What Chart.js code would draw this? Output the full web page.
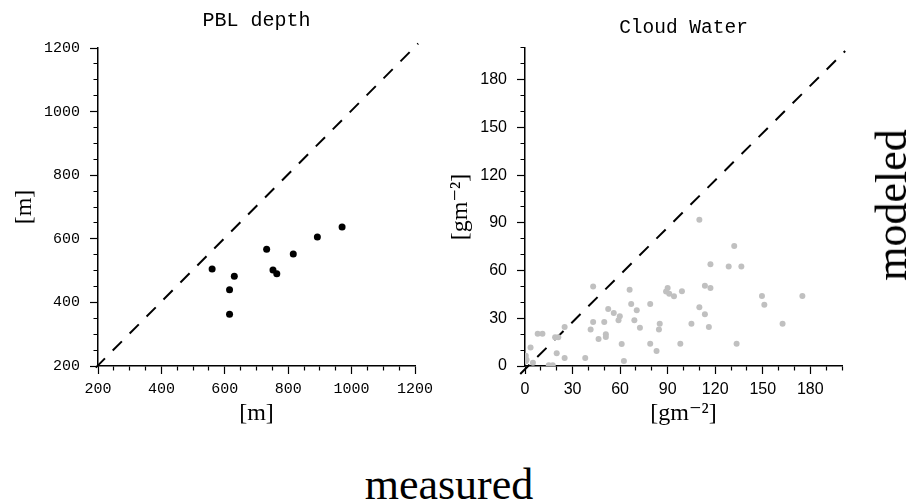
<!DOCTYPE html>
<html>
<head>
<meta charset="utf-8">
<script src="https://cdn.jsdelivr.net/npm/chart.js@4/dist/chart.umd.min.js"></script>
<style>
  body { margin: 0; background: #fff; }
  #wrap { position: relative; width: 911px; height: 503px; overflow: hidden; background: #fff; }
  canvas { position: absolute; top: 0; }
  #pbl { left: 0; }
  #cw { left: 430px; }
  .big { position: absolute; font-family: "Liberation Serif", "Times New Roman", serif; font-size: 44px; color: #000; white-space: nowrap; line-height: 1; }
  #measured { left: 449px; top: 463px; transform: translateX(-50%); }
  #modeled { left: 892px; top: 205px; transform: translate(-50%, -50%) rotate(-90deg); }
</style>
</head>
<body>
<div id="wrap">
  <canvas id="pbl" width="460" height="440"></canvas>
  <canvas id="cw" width="481" height="440"></canvas>
  <div class="big" id="modeled">modeled</div>
  <div class="big" id="measured">measured</div>
</div>
<script>
// PBL depth panel [m]
const pblMeasured = [560, 615, 615, 630, 732, 752, 764, 816, 892, 970];
const pblModeled  = [505, 440, 363, 482, 567, 502, 490, 552, 606, 637];
const pblTicks = [200, 400, 600, 800, 1000, 1200];
const pblDiagX = [193, 1210];
const pblDiagY = [195, 1214];

// Cloud Water panel [g m-2]
const cwMeasured = [110, 132, 117, 128.5, 136.5, 43, 66, 90, 89, 91, 94, 99, 113.5, 117,
  149.5, 151, 175, 162.5, 133.5, 98, 105, 110, 113.5, 116, 79, 85, 84.5, 79, 83,
  67, 70.5, 69, 72.5, 59.8, 59, 56, 52.5, 50, 43, 41.4, 46.4, 51, 51, 61, 62.4,
  38, 25, 25, 20, 19, 21, 8, 11, 3.5, 0.5, 1, 0.5, 5, 15, 17.5];
const cwModeled = [92, 75.5, 64, 62.5, 62.5, 50, 48, 49, 46.8, 45.5, 43.8, 47, 50.5, 49,
  44, 38.5, 44, 26.5, 14, 14, 26.5, 37, 32.5, 24.5, 39, 26.5, 23, 14, 9.5,
  39, 35, 28.7, 24, 31.3, 28.7, 33.3, 35.8, 27.7, 27.7, 23, 17, 20, 18.2, 13.8, 3.1,
  5, 24.5, 5, 8, 18, 18, 20.3, 20.3, 11.7, 6.5, 4, 3, 2, 0.4, 0.4];
const cwTicks = [0, 30, 60, 90, 120, 150, 180];
const cwDiagX = [-3, 202];
const cwDiagY = [-5, 198];

const MONO = '"Liberation Mono", "Courier New", monospace';
const SANS = '"Liberation Sans", Arial, sans-serif';
const SERIF = '"Liberation Serif", "DejaVu Serif", serif';

function tickGrid(majorStep, pos) {
  return {
    display: true,
    drawOnChartArea: false,
    drawTicks: true,
    tickLength: 8,
    tickColor: '#000',
    tickWidth: 1.2,
    tickBorderDash: (c) => {
      const v = c.tick ? c.tick.value : 0;
      if (Math.abs(v % majorStep) < 1e-6) return [];
      // minor ticks: keep only the part next to the axis
      return pos === 'left' ? [0, 3.5, 5, 100] : [4, 100];
    },
  };
}

function axis(opts) {
  return {
    type: 'linear',
    position: opts.position,
    min: opts.min,
    max: opts.max,
    ticks: {
      stepSize: opts.step,
      autoSkip: false,
      maxRotation: 0,
      color: '#000',
      padding: opts.position === 'left' ? 10 : 6,
      font: { family: opts.tickFont, size: opts.tickSize },
      callback: (v) => (opts.labels.includes(v) ? String(v) : ''),
    },
    grid: tickGrid(opts.major, opts.position),
    border: { display: true, color: '#000', width: 1.5 },
    title: {
      display: true,
      text: opts.title,
      color: '#000',
      font: { family: SERIF, size: 24 },
      padding: opts.position === 'left' ? { top: opts.titlePad, bottom: 0 } : { top: 0, bottom: opts.titlePad },
    },
    afterFit: (s) => {
      if (opts.position === 'left') s.width = opts.size;
      else s.height = opts.size;
    },
  };
}

function makeChart(id, cfg) {
  const pts = cfg.xs.map((x, i) => ({ x: x, y: cfg.ys[i] }));
  const diag = cfg.diagX.map((x, i) => ({ x: x, y: cfg.diagY[i] }));
  return new Chart(document.getElementById(id), {
    type: 'scatter',
    data: {
      datasets: [
        {
          data: pts,
          pointRadius: cfg.radius,
          pointHoverRadius: cfg.radius,
          backgroundColor: cfg.color,
          borderWidth: 0,
        },
        {
          type: 'line',
          data: diag,
          borderColor: '#000',
          borderWidth: 2,
          borderDash: [13, 11],
          pointRadius: 0,
          showLine: true,
          fill: false,
          clip: false,
        },
      ],
    },
    options: {
      responsive: false,
      animation: false,
      devicePixelRatio: 1,
      layout: { padding: { left: 0, right: cfg.padRight, top: 0, bottom: 0 } },
      plugins: {
        legend: { display: false },
        tooltip: { enabled: false },
        title: {
          display: true,
          fullSize: false,
          text: cfg.title,
          color: '#000',
          font: { family: MONO, size: cfg.titleSize, weight: 'normal' },
          padding: cfg.titlePad,
        },
      },
      scales: {
        x: axis({ position: 'bottom', min: cfg.min, max: cfg.max, step: cfg.step, major: cfg.major,
          labels: cfg.ticks, tickFont: cfg.tickFont, tickSize: cfg.tickSize,
          title: cfg.unit, titlePad: 11.6, size: 74 }),
        y: axis({ position: 'left', min: cfg.min, max: cfg.max, step: cfg.step, major: cfg.major,
          labels: cfg.ticks, tickFont: cfg.tickFont, tickSize: cfg.tickSize,
          title: cfg.unit, titlePad: cfg.yTitlePad, size: cfg.yWidth }),
      },
    },
  });
}

makeChart('pbl', {
  xs: pblMeasured, ys: pblModeled, diagX: pblDiagX, diagY: pblDiagY,
  title: 'PBL depth', titleSize: 20, unit: '[m]',
  min: 200, max: 1200, step: 50, major: 200, ticks: pblTicks,
  tickFont: MONO, tickSize: 15,
  radius: 3.5, color: '#000',
  padRight: 45, yWidth: 98, yTitlePad: 10.6,
  titlePad: { top: 9, bottom: 15 },
});

makeChart('cw', {
  xs: cwMeasured, ys: cwModeled, diagX: cwDiagX, diagY: cwDiagY,
  title: 'Cloud Water', titleSize: 19.5, unit: '[gm\u207B\u00B2]',
  min: 0, max: 200, step: 10, major: 30, ticks: cwTicks,
  tickFont: SANS, tickSize: 16,
  radius: 3, color: '#c0c0c0',
  padRight: 69, yWidth: 95, yTitlePad: 16.6,
  titlePad: { top: 16.5, bottom: 8 },
});
</script>
</body>
</html>
